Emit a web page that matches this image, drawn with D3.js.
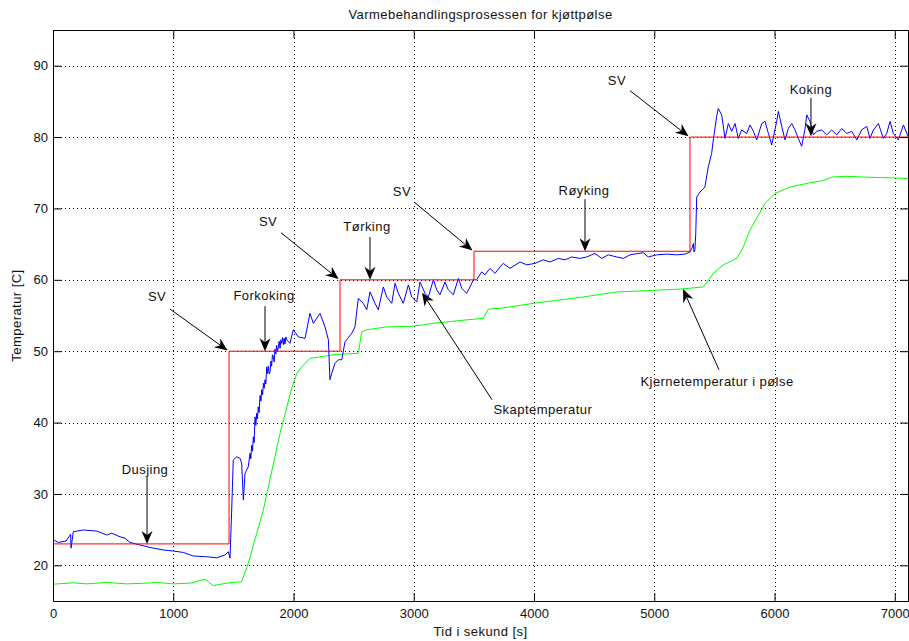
<!DOCTYPE html>
<html>
<head>
<meta charset="utf-8">
<script src="https://cdn.jsdelivr.net/npm/d3@7"></script>
<style>
body { margin: 0; background: #fff; }
svg text { font-family: "Liberation Sans", Arial, sans-serif; fill: #111; }
.grid line { stroke: #000; stroke-width: 1; stroke-dasharray: 1,3; }
.axis path, .axis line { stroke: #000; }
.lbl { font-size: 13px; letter-spacing: 0.45px; }
</style>
</head>
<body>
<div id="graph"></div>
<script>
// akser
const xTicks = [0, 1000, 2000, 3000, 4000, 5000, 6000, 7000];
const yTicks = [20, 30, 40, 50, 60, 70, 80, 90];
const xMax = 7110;

// settverdi (SV) - trappetrinn
const svTid = [0, 1464, 2387, 3501, 5297, 7110];
const svVerdi = [23, 50, 60, 64, 80, 80];

// skaptemperatur (blå)
const skapTemperatur = [
  [0, 23.6], [44, 23.2], [108, 23.4], [147, 24.35], [150, 22.4], [169, 24.7], [252, 24.95],
  [363, 24.8], [447, 24.25], [488, 24.5], [557, 24.0], [599, 23.8], [640, 23.2], [723, 22.85],
  [807, 22.5], [917, 22.15], [1000, 22.0], [1084, 21.8], [1167, 21.3], [1278, 21.2],
  [1361, 21.05], [1430, 21.45], [1458, 21.9], [1472, 21.0], [1486, 27.75], [1499, 34.75],
  [1528, 35.2], [1555, 35.0], [1569, 34.3], [1583, 29.15], [1597, 32.9], [1624, 33.8],
  [1638, 35.7], [1645, 34.9], [1652, 36.8], [1659, 36.0], [1666, 38.0], [1673, 37.2],
  [1680, 40.8], [1687, 39.6], [1694, 41.3], [1700, 40.5], [1707, 42.2], [1714, 41.4],
  [1722, 43.8], [1729, 43.0], [1736, 44.6], [1743, 43.9], [1750, 45.5], [1756, 44.8],
  [1763, 46.0], [1770, 45.4], [1777, 47.8], [1784, 46.9], [1791, 47.9], [1798, 46.8],
  [1805, 47.1], [1812, 48.6], [1818, 47.9], [1825, 49.5], [1832, 49.2], [1839, 48.5],
  [1846, 50.3], [1853, 49.6], [1860, 50.8], [1867, 50.0], [1874, 50.6], [1881, 51.4],
  [1888, 50.4], [1895, 51.6], [1902, 51.1], [1909, 51.9], [1916, 50.9], [1922, 51.8],
  [1929, 51.0], [1936, 52.0], [1943, 51.6], [1971, 51.1], [1998, 53.0], [2040, 52.0],
  [2096, 51.8], [2137, 55.3], [2165, 53.9], [2220, 55.3], [2262, 53.4], [2290, 51.6],
  [2303, 46.0], [2318, 46.9], [2345, 48.3], [2373, 48.8], [2401, 48.8], [2428, 51.3],
  [2484, 52.5], [2511, 53.4], [2539, 57.4], [2580, 56.7], [2609, 55.8], [2636, 58.3],
  [2678, 56.7], [2705, 55.8], [2747, 59.0], [2775, 57.6], [2817, 56.7], [2844, 59.5],
  [2872, 58.1], [2913, 56.7], [2955, 59.3], [2983, 57.6], [3025, 56.9], [3052, 59.7],
  [3094, 58.1], [3121, 57.6], [3163, 60.0], [3191, 58.6], [3218, 57.9], [3260, 59.7],
  [3287, 58.6], [3329, 57.9], [3371, 60.2], [3399, 58.8], [3440, 58.1], [3468, 59.0],
  [3495, 60.0], [3523, 60.0], [3565, 61.1], [3592, 60.7], [3634, 61.6], [3676, 60.9],
  [3717, 61.8], [3745, 62.3], [3800, 61.6], [3884, 62.5], [3939, 62.1], [4008, 62.3],
  [4077, 62.8], [4133, 62.5], [4202, 63.0], [4258, 62.8], [4313, 63.2], [4382, 63.0],
  [4438, 63.2], [4507, 63.7], [4563, 63.0], [4618, 63.5], [4688, 63.2], [4743, 63.0],
  [4798, 63.5], [4909, 63.8], [4950, 63.2], [5020, 63.5], [5103, 63.6], [5187, 63.5],
  [5256, 63.6], [5297, 63.9], [5318, 64.6], [5325, 65.1], [5331, 63.9], [5338, 64.2],
  [5345, 66.5], [5353, 71.6], [5380, 72.3], [5421, 73.0], [5449, 75.8], [5477, 77.7],
  [5491, 79.6], [5519, 82.9], [5532, 84.0], [5561, 83.1], [5588, 79.8], [5616, 81.9],
  [5644, 80.8], [5672, 81.9], [5699, 79.8], [5727, 81.0], [5769, 80.5], [5796, 81.7],
  [5824, 80.8], [5852, 79.6], [5894, 81.9], [5921, 82.2], [5949, 80.5], [5977, 78.9],
  [6018, 82.2], [6032, 83.6], [6060, 81.5], [6087, 79.6], [6115, 81.2], [6143, 81.9],
  [6170, 81.0], [6198, 79.8], [6226, 78.7], [6254, 81.2], [6268, 83.1], [6295, 82.2],
  [6323, 80.3], [6351, 80.8], [6392, 81.0], [6434, 80.3], [6476, 81.0], [6517, 80.3],
  [6559, 81.2], [6601, 80.5], [6642, 80.8], [6684, 79.6], [6725, 81.0], [6767, 81.5],
  [6794, 79.8], [6822, 81.0], [6864, 81.9], [6905, 79.8], [6933, 80.5], [6961, 82.2],
  [6988, 80.5], [7030, 79.6], [7072, 81.7], [7113, 80.0]
];

// kjernetemperatur i pølse (grønn)
const kjerneTemperatur = [
  [0, 17.35], [169, 17.55], [280, 17.4], [447, 17.6], [613, 17.4], [779, 17.5], [862, 17.6],
  [1000, 17.4], [1139, 17.5], [1264, 18.05], [1333, 17.15], [1444, 17.5], [1569, 17.7],
  [1624, 20.3], [1749, 27.75], [1888, 38.5], [1985, 44.8], [2027, 46.9], [2068, 47.8],
  [2137, 49.0], [2220, 49.2], [2331, 49.5], [2414, 49.6], [2539, 49.7], [2567, 52.7],
  [2609, 53.0], [2775, 53.4], [2996, 53.5], [3163, 53.9], [3385, 54.3], [3578, 54.6],
  [3620, 55.9], [3717, 56.0], [3994, 56.7], [4410, 57.6], [4688, 58.3], [4965, 58.5],
  [5214, 58.7], [5408, 59.0], [5491, 60.9], [5574, 62.1], [5686, 63.0], [5740, 64.6],
  [5796, 67.0], [5921, 70.7], [6004, 72.1], [6129, 73.0], [6295, 73.6], [6406, 73.9],
  [6476, 74.4], [6601, 74.5], [6738, 74.4], [7113, 74.2]
];

// merknader: tekst (tx, ty), pil fra (x1, y1) til (x2, y2)
const merknader = [
  { tekst: "Dusjing", tx: 765, ty: 32.8, x1: 782, y1: 32.4, x2: 782, y2: 23 },
  { tekst: "SV", tx: 865, ty: 57.0, x1: 973, y1: 55.9, x2: 1452, y2: 50.1 },
  { tekst: "Forkoking", tx: 1755, ty: 57.2, x1: 1763, y1: 56.3, x2: 1763, y2: 50 },
  { tekst: "SV", tx: 1788, ty: 67.5, x1: 1896, y1: 66.6, x2: 2375, y2: 60.1 },
  { tekst: "Tørking", tx: 2611, ty: 66.8, x1: 2636, y1: 66.0, x2: 2636, y2: 60 },
  { tekst: "SV", tx: 2902, ty: 71.7, x1: 3010, y1: 70.8, x2: 3488, y2: 64.1 },
  { tekst: "Røyking", tx: 4416, ty: 71.9, x1: 4424, y1: 71.3, x2: 4424, y2: 64 },
  { tekst: "SV", tx: 4690, ty: 87.3, x1: 4798, y1: 86.5, x2: 5285, y2: 80.1 },
  { tekst: "Koking", tx: 6303, ty: 86.0, x1: 6303, y1: 85.5, x2: 6303, y2: 80.1 },
  { tekst: "Skaptemperatur", tx: 4074, ty: 41.2, x1: 3651, y1: 43.2, x2: 3069, y2: 58.2 },
  { tekst: "Kjernetemperatur i pølse", tx: 5522, ty: 45.1, x1: 5538, y1: 47.4, x2: 5239, y2: 58.7 }
];

const margin = { top: 30, right: 1, bottom: 40, left: 53 };
const totalW = 909, totalH = 641;
const width = totalW - margin.left - margin.right;
const height = totalH - margin.top - margin.bottom;

const svg = d3.select("#graph").append("svg")
  .attr("width", totalW)
  .attr("height", totalH);

const g = svg.append("g")
  .attr("transform", "translate(" + margin.left + "," + margin.top + ")");

const x = d3.scaleLinear().domain([0, xMax]).range([0, width]);
const y = d3.scaleLinear().domain([15, 95]).range([height, 0]);

g.append("clipPath").attr("id", "clip")
  .append("rect").attr("width", width).attr("height", height);

// rutenett
const grid = g.append("g").attr("class", "grid");
grid.selectAll(".gx").data(xTicks.filter(d => d > 0))
  .enter().append("line")
  .attr("x1", d => Math.round(x(d)) + 0.5).attr("x2", d => Math.round(x(d)) + 0.5)
  .attr("y1", 0).attr("y2", height);
grid.selectAll(".gy").data(yTicks)
  .enter().append("line")
  .attr("y1", d => Math.round(y(d)) + 0.5).attr("y2", d => Math.round(y(d)) + 0.5)
  .attr("x1", 0).attr("x2", width);

// kurver
const line = d3.line().x(d => x(d[0])).y(d => y(d[1]));
const plot = g.append("g").attr("clip-path", "url(#clip)");

plot.append("path")
  .datum(kjerneTemperatur)
  .attr("fill", "none").attr("stroke", "#00ff00").attr("stroke-width", 1)
  .attr("d", line);

plot.append("path")
  .datum(skapTemperatur)
  .attr("fill", "none").attr("stroke", "#0000ff").attr("stroke-width", 1)
  .attr("d", line);

plot.append("path")
  .datum(svTid.map((t, i) => [t, svVerdi[i]]))
  .attr("fill", "none").attr("stroke", "#ff0000").attr("stroke-width", 1)
  .attr("d", line.curve(d3.curveStepAfter));

// akser
g.append("g").attr("class", "axis")
  .attr("transform", "translate(0," + height + ")")
  .call(d3.axisBottom(x).tickValues(xTicks).tickFormat(d3.format("d"))
    .tickSizeInner(-8).tickSizeOuter(0).tickPadding(8))
  .selectAll("text").attr("font-size", 13);

g.append("g").attr("class", "axis")
  .call(d3.axisLeft(y).tickValues(yTicks).tickFormat(d3.format("d"))
    .tickSizeInner(-8).tickSizeOuter(0).tickPadding(5))
  .selectAll("text").attr("font-size", 13);

g.append("g").attr("class", "axis")
  .call(d3.axisTop(x).tickValues(xTicks).tickSizeInner(-8).tickSizeOuter(0).tickFormat(""));

g.append("g").attr("class", "axis")
  .attr("transform", "translate(" + width + ",0)")
  .call(d3.axisRight(y).tickValues(yTicks).tickSizeInner(-8).tickSizeOuter(0).tickFormat(""));

g.selectAll(".axis text").attr("font-family", null).style("fill", "#111");

// merknader med piler
const ann = g.append("g");
const L = 13, B = 5.5, N = 4;
merknader.forEach(m => {
  const sx = x(m.x1), sy = y(m.y1), ex = x(m.x2), ey = y(m.y2);
  const ang = Math.atan2(ey - sy, ex - sx);
  ann.append("line")
    .attr("x1", sx).attr("y1", sy)
    .attr("x2", ex - (L - N) * Math.cos(ang)).attr("y2", ey - (L - N) * Math.sin(ang))
    .attr("stroke", "#000").attr("stroke-width", 1);
  ann.append("path")
    .attr("d", "M0,0L" + (-L) + "," + (-B) + "L" + (-(L - N)) + ",0L" + (-L) + "," + B + "Z")
    .attr("transform", "translate(" + ex + "," + ey + ") rotate(" + (ang * 180 / Math.PI) + ")")
    .attr("fill", "#000");
  ann.append("text")
    .attr("class", "lbl")
    .attr("x", x(m.tx)).attr("y", y(m.ty))
    .attr("text-anchor", "middle")
    .text(m.tekst);
});

// tittel og aksetitler
svg.append("text").attr("class", "lbl")
  .attr("x", margin.left + width / 2).attr("y", 19)
  .attr("text-anchor", "middle")
  .text("Varmebehandlingsprosessen for kjøttpølse");

svg.append("text").attr("class", "lbl")
  .attr("x", margin.left + width / 2).attr("y", 636)
  .attr("text-anchor", "middle")
  .text("Tid i sekund [s]");

svg.append("text").attr("class", "lbl")
  .attr("transform", "translate(21," + (margin.top + height / 2) + ") rotate(-90)")
  .attr("text-anchor", "middle")
  .text("Temperatur [C]");
</script>
</body>
</html>
